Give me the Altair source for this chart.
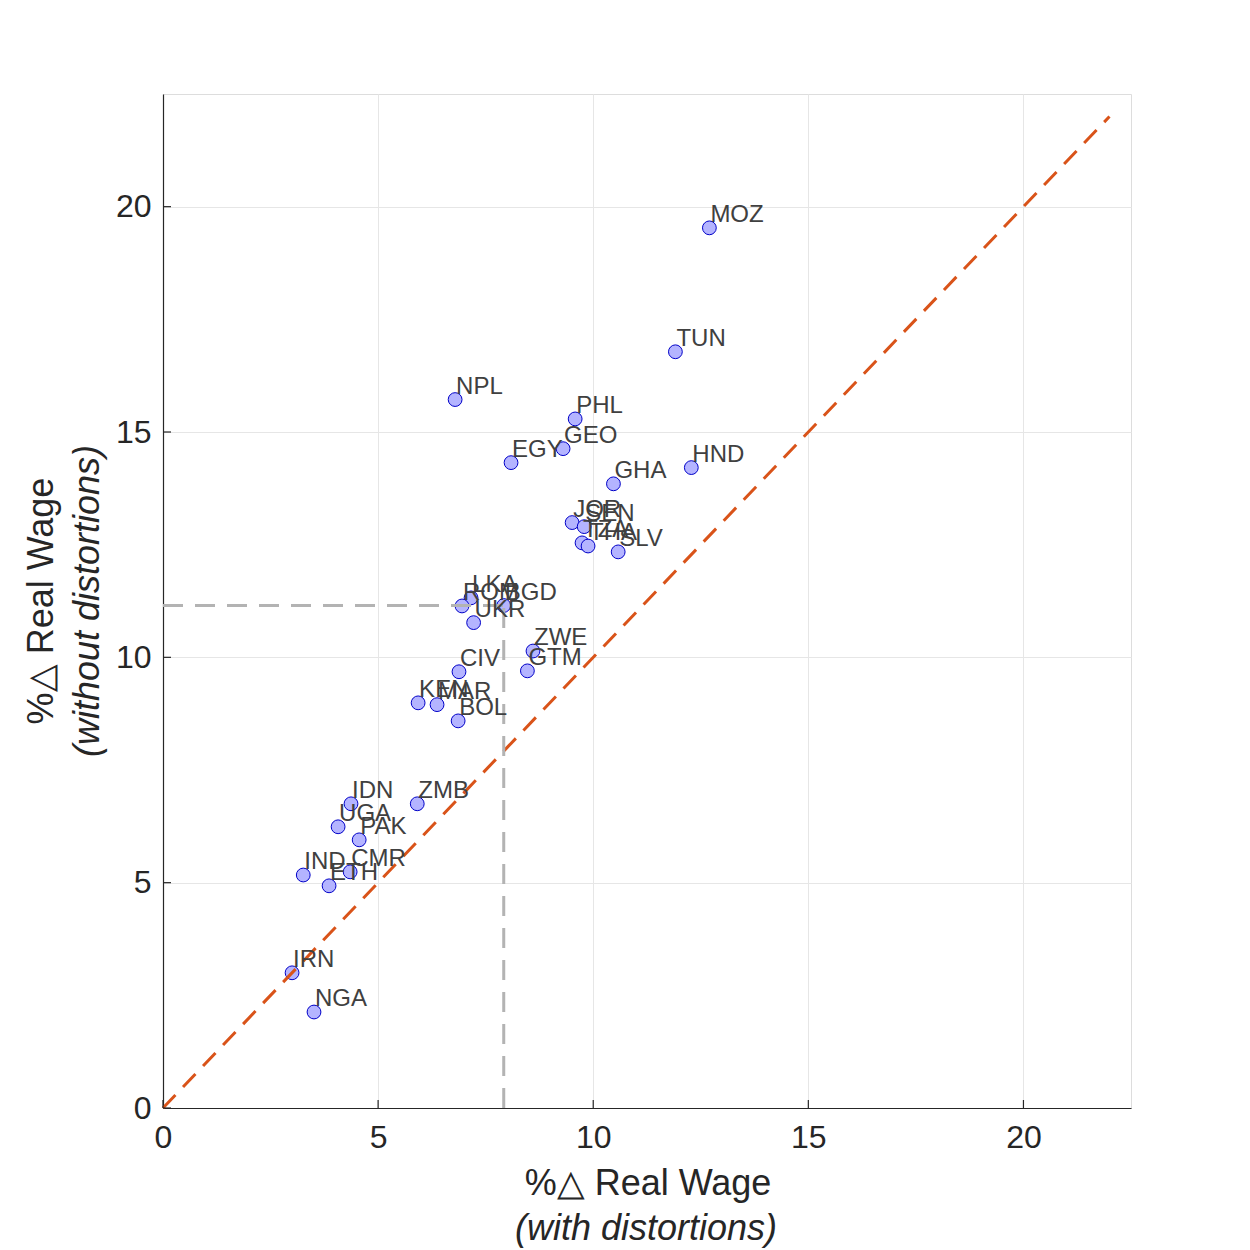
import altair as alt
import pandas as pd

countries = ["MOZ", "TUN", "NPL", "PHL", "GEO", "EGY", "HND", "GHA", "JOR", "SEN",
             "TZA", "THA", "SLV", "LKA", "ROM", "BGD", "UKR", "ZWE", "GTM", "CIV",
             "KEN", "MAR", "BOL", "IDN", "ZMB", "UGA", "PAK", "CMR", "IND", "ETH",
             "IRN", "NGA"]
with_dist = [12.70, 11.91, 6.79, 9.58, 9.30, 8.09, 12.28, 10.47, 9.51, 9.79,
             9.74, 9.88, 10.58, 7.16, 6.95, 7.92, 7.22, 8.60, 8.47, 6.88,
             5.93, 6.37, 6.86, 4.37, 5.91, 4.07, 4.56, 4.35, 3.26, 3.86,
             3.00, 3.51]
without_dist = [19.53, 16.78, 15.72, 15.29, 14.63, 14.32, 14.21, 13.85, 12.99, 12.90,
                12.54, 12.47, 12.34, 11.32, 11.14, 11.15, 10.77, 10.14, 9.70, 9.68,
                8.99, 8.95, 8.59, 6.75, 6.75, 6.24, 5.95, 5.24, 5.17, 4.93,
                3.00, 2.13]

diag_x = [0, 22]
diag_y = [0, 22]
ref_point = "BGD"
tick_values = [0, 5, 10, 15, 20]
axis_max = 22.5

W, H = 968, 1014
FONT = "Liberation Sans"
DARK = "#262626"

df = pd.DataFrame({"country": countries, "x": with_dist, "y": without_dist})
diag = pd.DataFrame({"x": diag_x, "y": diag_y})
ri = countries.index(ref_point)
ref = pd.DataFrame({"x": [0.0, with_dist[ri]], "x2": [with_dist[ri], with_dist[ri]],
                    "y": [without_dist[ri], 0.0], "y2": [without_dist[ri], without_dist[ri]]})
ticks = pd.DataFrame({"t": tick_values})

xs = alt.Scale(domain=[0, axis_max], nice=False, zero=False)
ys = alt.Scale(domain=[0, axis_max], nice=False, zero=False)

xaxis = alt.Axis(values=tick_values, title=None, grid=True, gridColor="#e6e6e6", gridWidth=1,
                 ticks=False, labelFont=FONT, labelFontSize=32, labelColor=DARK,
                 labelPadding=14, labelFlush=False, domainColor=DARK, domainWidth=1.2)
yaxis = alt.Axis(values=tick_values, title=None, grid=True, gridColor="#e6e6e6", gridWidth=1,
                 ticks=False, labelFont=FONT, labelFontSize=32, labelColor=DARK,
                 labelPadding=12, labelFlush=False, domainColor=DARK, domainWidth=1.2)

base = alt.Chart(df)

points = base.mark_point(filled=True, shape="circle", size=190, fill="#b4b4ff",
                         stroke="#0000c8", strokeWidth=1, opacity=1).encode(
    x=alt.X("x:Q", scale=xs, axis=xaxis),
    y=alt.Y("y:Q", scale=ys, axis=yaxis),
)

diag_line = alt.Chart(diag).mark_line(color="#d95319", strokeWidth=3,
                                      strokeDash=[18, 11]).encode(
    x=alt.X("x:Q", scale=xs), y=alt.Y("y:Q", scale=ys))

ref_lines = alt.Chart(ref).mark_rule(color="#b3b3b3", strokeWidth=3,
                                     strokeDash=[20, 12]).encode(
    x=alt.X("x:Q", scale=xs), x2="x2:Q", y=alt.Y("y:Q", scale=ys), y2="y2:Q")

labels = base.mark_text(align="left", baseline="alphabetic", dx=1, dy=-6,
                        font=FONT, fontSize=24, color="#404040").encode(
    x=alt.X("x:Q", scale=xs), y=alt.Y("y:Q", scale=ys), text="country:N")

xticks = alt.Chart(ticks).mark_rule(color=DARK, strokeWidth=1.2).encode(
    x=alt.X("t:Q", scale=xs), y=alt.value(H), y2=alt.value(H - 8))
yticks = alt.Chart(ticks).mark_rule(color=DARK, strokeWidth=1.2).encode(
    y=alt.Y("t:Q", scale=ys), x=alt.value(0), x2=alt.value(8))

title_df = pd.DataFrame({"a": [0]})
def title_text(text, x, y, angle=0, style="normal"):
    return alt.Chart(title_df).mark_text(
        text=text, font=FONT, fontSize=36, color=DARK, align="center",
        baseline="alphabetic", angle=angle, fontStyle=style).encode(
        x=alt.value(x), y=alt.value(y))

xt1 = title_text("%\u25b3 Real Wage", W / 2 + 1, 1101)
xt2 = title_text("(with distortions)", W / 2 - 1, 1146, style="italic")
yt1 = title_text("%\u25b3 Real Wage", -110, H / 2, angle=270)
yt2 = title_text("(without distortions)", -64, H / 2, angle=270, style="italic")

chart = alt.layer(points, diag_line, ref_lines, labels, xticks, yticks,
                  xt1, xt2, yt1, yt2).properties(
    width=W, height=H,
    autosize=alt.AutoSizeParams(type="none"),
    padding={"left": 155, "top": 86, "right": 100, "bottom": 140},
).configure_view(stroke=None).configure(background="white")

chart.save("out.html", embed_options={"renderer": "svg", "actions": False})
